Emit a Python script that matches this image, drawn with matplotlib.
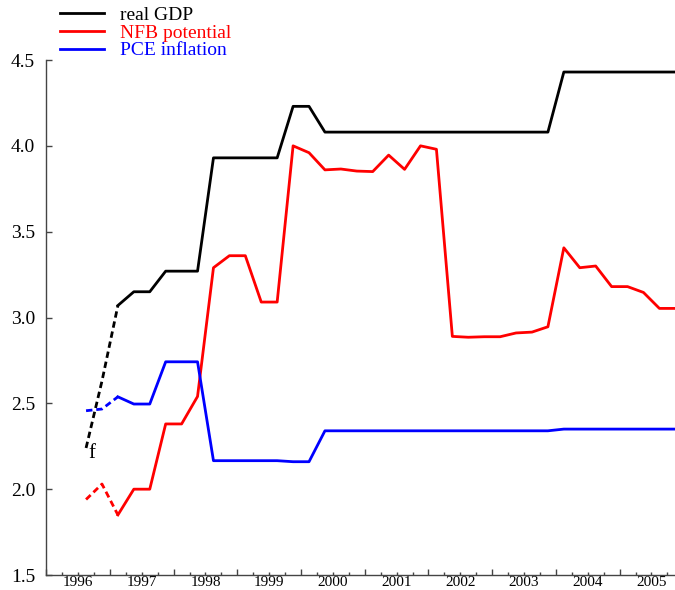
import matplotlib
matplotlib.use("Agg")
import matplotlib.pyplot as plt
import numpy as np

plt.rcParams['font.family'] = ['Liberation Serif', 'DejaVu Serif']

# quarterly observations, 1996Q3 .. 2005Q4 (plotted at mid-quarter)
quarters = 1996.625 + 0.25 * np.arange(38)

real_gdp = [2.24, 2.63, 3.07, 3.15, 3.15, 3.27, 3.27, 3.27, 3.93, 3.93,
            3.93, 3.93, 3.93, 4.23, 4.23, 4.08, 4.08, 4.08, 4.08, 4.08,
            4.08, 4.08, 4.08, 4.08, 4.08, 4.08, 4.08, 4.08, 4.08, 4.08,
            4.43, 4.43, 4.43, 4.43, 4.43, 4.43, 4.43, 4.43]
nfb_potential = [1.94, 2.03, 1.85, 2.00, 2.00, 2.38, 2.38, 2.54, 3.29, 3.36,
                 3.36, 3.09, 3.09, 4.00, 3.96, 3.86, 3.865, 3.853, 3.85, 3.946,
                 3.863, 4.00, 3.98, 2.89, 2.885, 2.888, 2.888, 2.91, 2.915, 2.946,
                 3.406, 3.29, 3.30, 3.18, 3.18, 3.146, 3.053, 3.053]
pce_inflation = [2.457, 2.467, 2.538, 2.496, 2.496, 2.742, 2.742, 2.742, 2.166, 2.166,
                 2.166, 2.166, 2.166, 2.16, 2.16, 2.34, 2.34, 2.34, 2.34, 2.34,
                 2.34, 2.34, 2.34, 2.34, 2.34, 2.34, 2.34, 2.34, 2.34, 2.34,
                 2.35, 2.35, 2.35, 2.35, 2.35, 2.35, 2.35, 2.35]

series = [("real GDP", real_gdp, "black"),
          ("NFB potential", nfb_potential, "red"),
          ("PCE inflation", pce_inflation, "blue")]

years = np.arange(1996, 2006)
n_dash = 3  # first points are dashed

fig = plt.figure(figsize=(6.75, 5.9), dpi=100)
ax = fig.add_axes([0.0685, 0.0254, 0.9315, 0.8729])

for label, vals, col in series:
    vals = np.array(vals)
    ax.plot(quarters[:n_dash], vals[:n_dash], color=col, lw=2,
            linestyle=(0, (2.3, 1.4)))
    ax.plot(quarters[n_dash - 1:], vals[n_dash - 1:], color=col, lw=2, label=label)

ax.text(1996.72, 2.21, "f", fontsize=15, ha='center', va='center')

ax.set_yticks([1.5, 2.0, 2.5, 3.0, 3.5, 4.0, 4.5])
ax.set_yticklabels(["1.5", "2.0", "2.5", "3.0", "3.5", "4.0", "4.5"])

ax.set_xticks(years)
ax.set_xticklabels([])
minor = []
minor_labels = []
for y in years:
    for q in (0.25, 0.5, 0.75):
        minor.append(y + q)
        minor_labels.append(str(y) if q == 0.5 else "")
ax.set_xticks(minor, minor=True)
ax.set_xticklabels(minor_labels, minor=True)

# limits last, set_xticks would widen them
ax.set_xlim(1996, 2005.87)
ax.set_ylim(1.5, 4.5)

ax.tick_params(axis='y', direction='in', length=4, width=1, color='#444444',
               labelsize=14, pad=8)
ax.tick_params(axis='x', which='major', direction='in', length=4.5, width=1,
               color='#444444')
ax.tick_params(axis='x', which='minor', direction='in', length=2.5, width=1,
               color='#444444', labelsize=11, pad=1)

for side in ('top', 'right'):
    ax.spines[side].set_visible(False)
for side in ('left', 'bottom'):
    ax.spines[side].set_color('#444444')
    ax.spines[side].set_linewidth(1)

leg = ax.legend(loc='upper left', bbox_to_anchor=(0.086, 0.992),
                bbox_transform=fig.transFigure, frameon=False, fontsize=14,
                handlelength=2.25, handletextpad=0.85, labelspacing=0.0,
                borderaxespad=0, borderpad=0.1, labelcolor='linecolor')

fig.savefig("out.png", dpi=100)
